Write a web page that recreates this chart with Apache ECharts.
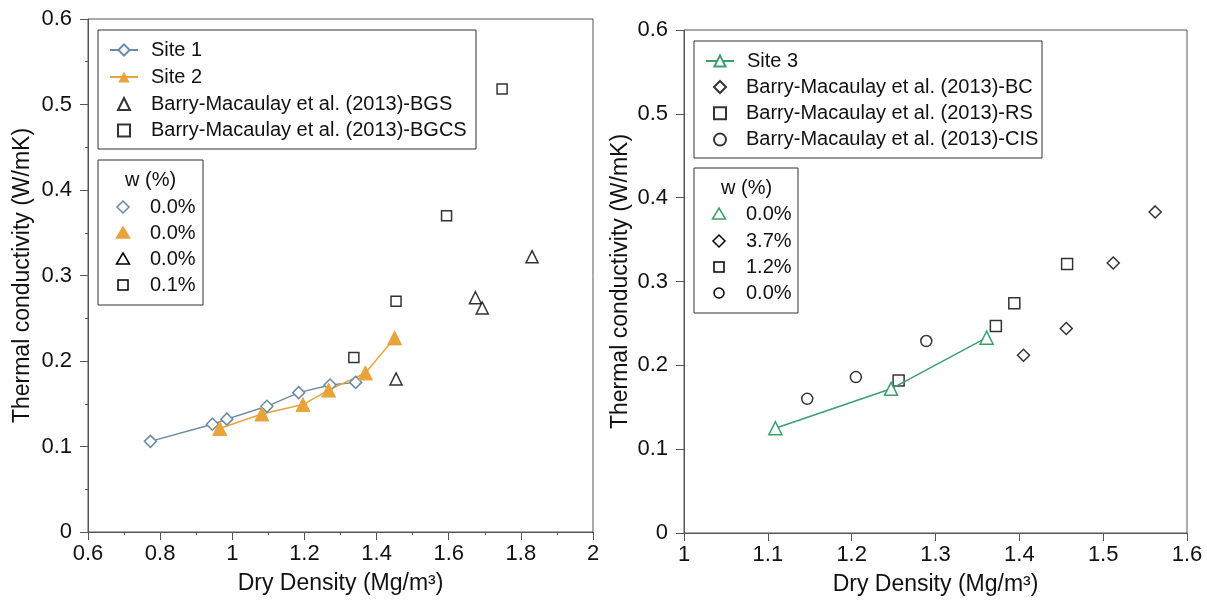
<!DOCTYPE html>
<html lang="en">
<head>
    <meta charset="UTF-8">
    <title>Thermal conductivity vs dry density</title>
    <script src="https://cdn.jsdelivr.net/npm/echarts@6/dist/echarts.min.js"></script>
</head>
<style>
    body{ margin:0; background:#fff; }
    #chart{ width:1207px; height:601px; }
</style>
<body>
    <div id="chart"></div>
    <script>
        // left panel [dry density, thermal conductivity]
        var site1 = [[0.773,0.106],[0.945,0.126],[0.985,0.132],[1.096,0.147],[1.184,0.163],[1.271,0.172],[1.342,0.175]];
        var site2 = [[0.965,0.121],[1.082,0.138],[1.196,0.149],[1.267,0.166],[1.369,0.186],[1.450,0.227]];
        var bgs   = [[1.454,0.179],[1.674,0.274],[1.693,0.262],[1.831,0.322]];
        var bgcs  = [[1.337,0.204],[1.454,0.270],[1.594,0.370],[1.748,0.518]];
        // right panel
        var site3 = [[1.109,0.125],[1.247,0.172],[1.361,0.233]];
        var bc    = [[1.405,0.212],[1.456,0.244],[1.512,0.322],[1.562,0.383]];
        var rs    = [[1.256,0.182],[1.372,0.247],[1.394,0.274],[1.457,0.321]];
        var cis   = [[1.147,0.160],[1.205,0.186],[1.289,0.229]];

        var leftNames  = ['Site 1','Site 2','Barry-Macaulay et al. (2013)-BGS','Barry-Macaulay et al. (2013)-BGCS'];
        var rightNames = ['Site 3','Barry-Macaulay et al. (2013)-BC','Barry-Macaulay et al. (2013)-RS','Barry-Macaulay et al. (2013)-CIS'];
        var wTitle = 'w (%)';
        var wLeft  = ['0.0%','0.0%','0.0%','0.1%'];
        var wRight = ['0.0%','3.7%','1.2%','0.0%'];

        var blue='#6a8aa6', orange='#e9a33b', green='#3d9e6d';
        var font='Liberation Sans';
        var legendFont=20;

        function axisX(idx,min,max,step,minor){
            return {
                gridIndex:idx, type:'value', min:min, max:max, interval:step,
                name:'Dry Density (Mg/m³)', nameLocation:'middle', nameGap:40,
                nameTextStyle:{fontSize:23, color:'#111', fontFamily:font},
                axisLine:{lineStyle:{color:'#555', width:1}},
                axisTick:{length:8, lineStyle:{color:'#555'}},
                minorTick:{show:minor, splitNumber:2, length:3, lineStyle:{color:'#555'}},
                axisLabel:{fontSize:22, color:'#111', margin:11, fontFamily:font},
                splitLine:{show:false}
            };
        }
        function axisY(idx){
            return {
                gridIndex:idx, type:'value', min:0, max:0.6, interval:0.1,
                name:'Thermal conductivity (W/mK)', nameLocation:'middle', nameGap:idx==0?54:52,
                nameTextStyle:{fontSize:23, color:'#111', fontFamily:font},
                axisLine:{lineStyle:{color:'#555', width:1}},
                axisTick:{length:8, lineStyle:{color:'#555'}},
                minorTick:{show:idx==0, splitNumber:2, length:3, lineStyle:{color:'#555'}},
                axisLabel:{fontSize:22, color:'#111', margin:16, fontFamily:font},
                splitLine:{show:false}
            };
        }
        function hollow(c){ return {color:'#fff', borderColor:c, borderWidth:1.5}; }

        var series=[
            {name:leftNames[0], type:'line', xAxisIndex:0, yAxisIndex:0, data:site1,
             symbol:'diamond', symbolSize:12, itemStyle:hollow(blue), lineStyle:{color:blue, width:1.5}},
            {name:leftNames[1], type:'line', xAxisIndex:0, yAxisIndex:0, data:site2,
             symbol:'triangle', symbolSize:14, itemStyle:{color:orange, borderColor:orange}, lineStyle:{color:orange, width:1.5}},
            {name:leftNames[2], type:'scatter', xAxisIndex:0, yAxisIndex:0, data:bgs,
             symbol:'triangle', symbolSize:12, itemStyle:hollow('#000')},
            {name:leftNames[3], type:'scatter', xAxisIndex:0, yAxisIndex:0, data:bgcs,
             symbol:'rect', symbolSize:10, itemStyle:hollow('#000')},
            {name:rightNames[0], type:'line', xAxisIndex:1, yAxisIndex:1, data:site3,
             symbol:'triangle', symbolSize:13, itemStyle:hollow(green), lineStyle:{color:green, width:1.5}},
            {name:rightNames[1], type:'scatter', xAxisIndex:1, yAxisIndex:1, data:bc,
             symbol:'diamond', symbolSize:12, itemStyle:hollow('#000')},
            {name:rightNames[2], type:'scatter', xAxisIndex:1, yAxisIndex:1, data:rs,
             symbol:'rect', symbolSize:11, itemStyle:hollow('#000')},
            {name:rightNames[3], type:'scatter', xAxisIndex:1, yAxisIndex:1, data:cis,
             symbol:'circle', symbolSize:11, itemStyle:hollow('#000')}
        ];

        // legends: line entries and marker-only entries separately, so icon sizes stay right
        function legendPart(names,left,top,iconW,iconH,gap,textPad){
            return {
                data:names, orient:'vertical', left:left, top:top,
                itemWidth:iconW, itemHeight:iconH, itemGap:gap, padding:0,
                selectedMode:false,
                textStyle:{fontSize:legendFont, lineHeight:20, color:'#111', fontFamily:font, padding:[0,0,0,textPad]}
            };
        }
        var legends=[
            legendPart(leftNames.slice(0,2),109,40,28,14,7,8),
            legendPart(leftNames.slice(2),117,94,12,12,6.5,16),
            legendPart(rightNames.slice(0,1),705,51,28,14,6,8),
            legendPart(rightNames.slice(1),713,77,12,12,6.3,15)
        ];

        // second legend ("w (%)") drawn as graphic
        function marker(kind,cx,cy,col,fill){
            var st={fill:fill?col:'#fff', stroke:col, lineWidth:1.5};
            if(kind=='diamond') return {type:'polygon', shape:{points:[[cx,cy-6],[cx+6,cy],[cx,cy+6],[cx-6,cy]]}, style:st};
            if(kind=='triangle') return {type:'polygon', shape:{points:[[cx,cy-6],[cx+6.5,cy+5],[cx-6.5,cy+5]]}, style:st};
            if(kind=='rect') return {type:'rect', shape:{x:cx-5,y:cy-5,width:10,height:10}, style:st};
            return {type:'circle', shape:{cx:cx,cy:cy,r:5}, style:st};
        }
        function frame(x,y,w,h){
            return {type:'rect', z:-1, shape:{x:x,y:y,width:w,height:h}, style:{fill:'#fff', stroke:'#333', lineWidth:1}};
        }
        function wBox(x,y,w,h,labels,marks,rowY){
            var els=[frame(x,y,w,h),
                     {type:'text', x:x+27, y:y+20, style:{text:wTitle, fontSize:legendFont, fontFamily:font, fill:'#111', verticalAlign:'middle'}}];
            for(var i=0;i<labels.length;i++){
                var cy=y+rowY[i];
                els.push(marker(marks[i][0], x+25, cy, marks[i][1], marks[i][2]));
                els.push({type:'text', x:x+52, y:cy, style:{text:labels[i], fontSize:legendFont, fontFamily:font, fill:'#111', verticalAlign:'middle'}});
            }
            return els;
        }
        var gfx=[].concat(
            [frame(98,30,378,119), frame(694,41,348,117)],
            wBox(98,160,105,145,wLeft,[['diamond',blue,false],['triangle',orange,true],['triangle','#000',false],['rect','#000',false]],[47,73,99,125]),
            wBox(694,168,104,145,wRight,[['triangle',green,false],['diamond','#000',false],['rect','#000',false],['circle','#000',false]],[46,73,99,125])
        );

        var chart=echarts.init(document.getElementById('chart'));
        chart.setOption({
            animation:false,
            textStyle:{fontFamily:font},
            grid:[
                {left:88, top:19, width:505, height:513, show:true, borderColor:'#555', borderWidth:1, backgroundColor:'transparent'},
                {left:684, top:30, width:503, height:503, show:true, borderColor:'#555', borderWidth:1, backgroundColor:'transparent'}
            ],
            xAxis:[axisX(0,0.6,2,0.2,true), axisX(1,1,1.6,0.1,false)],
            yAxis:[axisY(0), axisY(1)],
            legend:legends,
            graphic:gfx,
            series:series
        });
    </script>
</body>
</html>
